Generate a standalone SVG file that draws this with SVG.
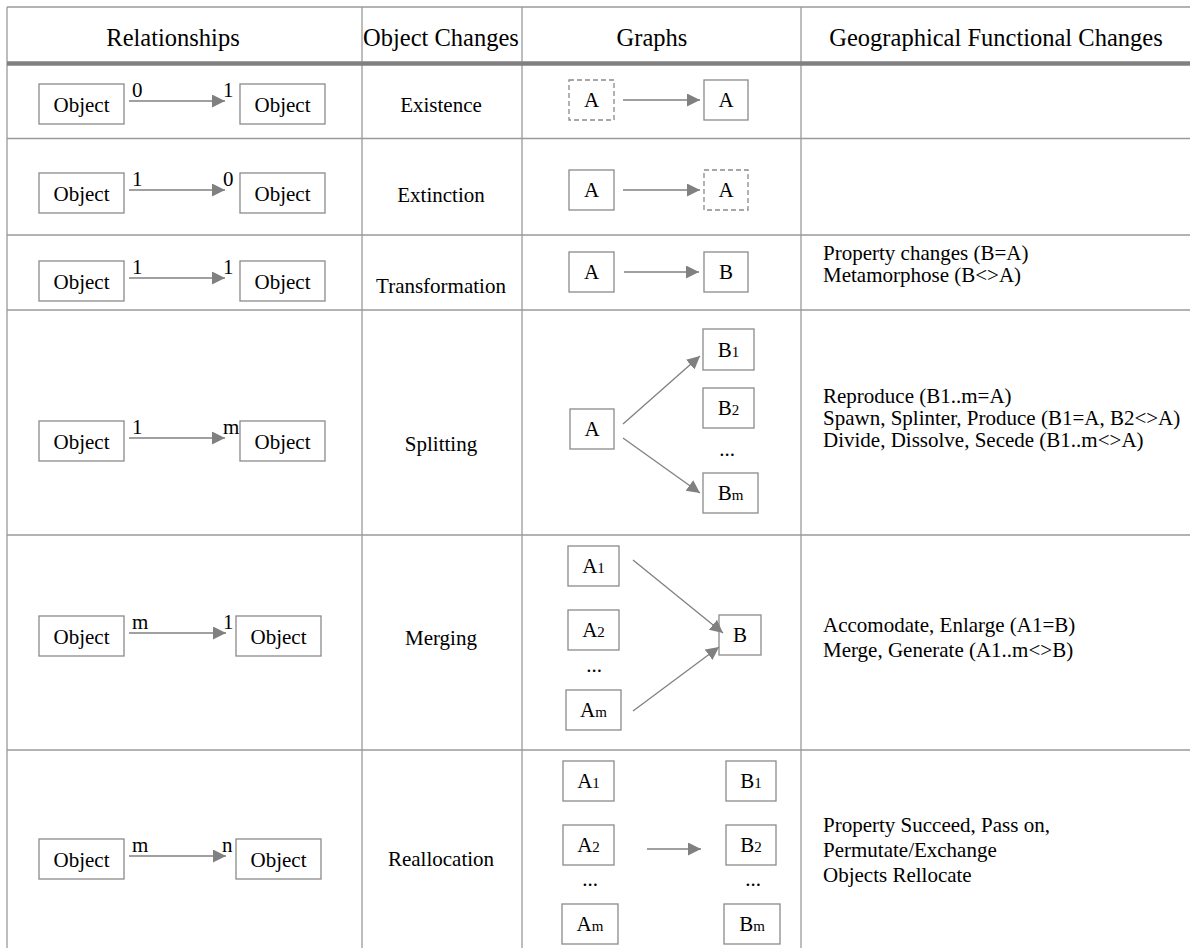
<svg xmlns="http://www.w3.org/2000/svg" width="1190" height="948" viewBox="0 0 1190 948">
<defs>
<style>
text{font-family:"Liberation Serif","Times New Roman",serif;fill:#000;}
.h{font-size:24.5px;text-anchor:middle;}
.t{font-size:21px;}
.c{font-size:21px;text-anchor:middle;}
.s{font-size:15px;}
.grid{stroke:#9a9a9a;stroke-width:1.3;fill:none;}
.thick{stroke:#808080;stroke-width:4.5;fill:none;}
.box{fill:#fff;stroke:#8a8a8a;stroke-width:1.3;}
.dash{fill:#fff;stroke:#8a8a8a;stroke-width:1.3;stroke-dasharray:5 3;}
.ar{stroke:#808080;stroke-width:1.3;fill:none;marker-end:url(#ah);}
</style>
<marker id="ah" markerUnits="userSpaceOnUse" markerWidth="14" markerHeight="14" refX="13" refY="6.5" orient="auto">
<path d="M0,0 L13,6.5 L0,13 z" fill="#808080"/>
</marker>
</defs>
<rect width="1190" height="948" fill="#fff"/>
<g id="table">
<path class="grid" d="M7,7 H1190 M7,138.5 H1190 M7,235 H1190 M7,310 H1190 M7,535 H1190 M7,750 H1190 M7,7 V948 M362,7 V948 M522,7 V948 M801,7 V948"/>
<path class="thick" d="M7,63.5 H1190"/>
<text class="h" x="173" y="46">Relationships</text>
<text class="h" x="441" y="46">Object Changes</text>
<text class="h" x="652" y="46">Graphs</text>
<text class="h" x="996" y="46">Geographical Functional Changes</text>
<text class="c" x="441" y="112">Existence</text>
<text class="c" x="441" y="202">Extinction</text>
<text class="c" x="441" y="293">Transformation</text>
<text class="c" x="441" y="451">Splitting</text>
<text class="c" x="441" y="645">Merging</text>
<text class="c" x="441" y="866">Reallocation</text>
<text class="t" x="823" y="260">Property changes (B=A)</text>
<text class="t" x="823" y="282">Metamorphose (B&lt;&gt;A)</text>
<text class="t" x="823" y="403">Reproduce (B1..m=A)</text>
<text class="t" x="823" y="425">Spawn, Splinter, Produce (B1=A, B2&lt;&gt;A)</text>
<text class="t" x="823" y="447">Divide, Dissolve, Secede (B1..m&lt;&gt;A)</text>
<text class="t" x="823" y="632">Accomodate, Enlarge (A1=B)</text>
<text class="t" x="823" y="657">Merge, Generate (A1..m&lt;&gt;B)</text>
<text class="t" x="823" y="832">Property Succeed, Pass on,</text>
<text class="t" x="823" y="857">Permutate/Exchange</text>
<text class="t" x="823" y="882">Objects Rellocate</text>
</g>
<g id="rel-existence">
<rect class="box" x="39" y="84" width="85" height="40"/><text class="c" x="81.5" y="112">Object</text>
<rect class="box" x="240" y="84" width="85" height="40"/><text class="c" x="282.5" y="112">Object</text>
<text class="t" x="132" y="97">0</text><text class="t" x="223" y="97">1</text>
</g>
<g id="rel-extinction">
<rect class="box" x="39" y="173" width="85" height="40"/><text class="c" x="81.5" y="201">Object</text>
<rect class="box" x="240" y="173" width="85" height="40"/><text class="c" x="282.5" y="201">Object</text>
<text class="t" x="132" y="186">1</text><text class="t" x="223" y="186">0</text>
</g>
<g id="rel-transformation">
<rect class="box" x="39" y="261" width="85" height="40"/><text class="c" x="81.5" y="289">Object</text>
<rect class="box" x="240" y="261" width="85" height="40"/><text class="c" x="282.5" y="289">Object</text>
<text class="t" x="132" y="274">1</text><text class="t" x="223" y="274">1</text>
</g>
<g id="rel-splitting">
<rect class="box" x="39" y="421" width="85" height="40"/><text class="c" x="81.5" y="449">Object</text>
<rect class="box" x="240" y="421" width="85" height="40"/><text class="c" x="282.5" y="449">Object</text>
<text class="t" x="132" y="434">1</text><text class="t" x="223" y="434">m</text>
</g>
<g id="rel-merging">
<rect class="box" x="39" y="616" width="85" height="40"/><text class="c" x="81.5" y="644">Object</text>
<rect class="box" x="236" y="616" width="85" height="40"/><text class="c" x="278.5" y="644">Object</text>
<text class="t" x="132" y="629">m</text><text class="t" x="223" y="629">1</text>
</g>
<g id="rel-reallocation">
<rect class="box" x="39" y="839" width="85" height="40"/><text class="c" x="81.5" y="867">Object</text>
<rect class="box" x="236" y="839" width="85" height="40"/><text class="c" x="278.5" y="867">Object</text>
<text class="t" x="132" y="852">m</text><text class="t" x="222" y="852">n</text>
</g>
<g id="g-existence">
<rect class="dash" x="569" y="80" width="45" height="40"/><text class="c" x="591.5" y="107">A</text>
<rect class="box" x="704" y="80" width="44" height="40"/><text class="c" x="726" y="107">A</text>
</g>
<g id="g-extinction">
<rect class="box" x="569" y="170" width="45" height="40"/><text class="c" x="591.5" y="197">A</text>
<rect class="dash" x="704" y="170" width="44" height="40"/><text class="c" x="726" y="197">A</text>
</g>
<g id="g-transformation">
<rect class="box" x="569" y="252" width="45" height="40"/><text class="c" x="591.5" y="279">A</text>
<rect class="box" x="704" y="252" width="44" height="40"/><text class="c" x="726" y="279">B</text>
</g>
<g id="g-splitting">
<rect class="box" x="570" y="409" width="44" height="40"/><text class="c" x="592" y="436">A</text>
<rect class="box" x="703" y="329" width="51" height="41"/><text class="c" x="728.5" y="357">B<tspan class="s">1</tspan></text>
<rect class="box" x="703" y="388" width="51" height="40"/><text class="c" x="728.5" y="415">B<tspan class="s">2</tspan></text>
<text class="c" x="727" y="456">...</text>
<rect class="box" x="703" y="473" width="55" height="40"/><text class="c" x="730.5" y="500">B<tspan class="s">m</tspan></text>
</g>
<g id="g-merging">
<rect class="box" x="568" y="546" width="51" height="40"/><text class="c" x="593.5" y="573">A<tspan class="s">1</tspan></text>
<rect class="box" x="568" y="610" width="51" height="40"/><text class="c" x="593.5" y="637">A<tspan class="s">2</tspan></text>
<text class="c" x="594" y="672">...</text>
<rect class="box" x="566" y="690" width="55" height="40"/><text class="c" x="593.5" y="717">A<tspan class="s">m</tspan></text>
<rect class="box" x="719" y="615" width="42" height="40"/><text class="c" x="740" y="642">B</text>
</g>
<g id="g-reallocation">
<rect class="box" x="563" y="761" width="51" height="40"/><text class="c" x="588.5" y="788">A<tspan class="s">1</tspan></text>
<rect class="box" x="563" y="825" width="51" height="40"/><text class="c" x="588.5" y="852">A<tspan class="s">2</tspan></text>
<text class="c" x="590" y="886">...</text>
<rect class="box" x="562" y="904" width="56" height="40"/><text class="c" x="590" y="931">A<tspan class="s">m</tspan></text>
<rect class="box" x="726" y="761" width="50" height="40"/><text class="c" x="751" y="788">B<tspan class="s">1</tspan></text>
<rect class="box" x="726" y="825" width="50" height="40"/><text class="c" x="751" y="852">B<tspan class="s">2</tspan></text>
<text class="c" x="753" y="886">...</text>
<rect class="box" x="724" y="904" width="56" height="40"/><text class="c" x="752" y="931">B<tspan class="s">m</tspan></text>
</g>
<g id="connectors">
<line class="ar" x1="129" y1="101" x2="225" y2="101"/>
<line class="ar" x1="129" y1="190" x2="225" y2="190"/>
<line class="ar" x1="129" y1="278" x2="225" y2="278"/>
<line class="ar" x1="129" y1="438" x2="225" y2="438"/>
<line class="ar" x1="129" y1="633" x2="226" y2="633"/>
<line class="ar" x1="129" y1="856" x2="226" y2="856"/>
<line class="ar" x1="623" y1="100" x2="700" y2="100"/>
<line class="ar" x1="623" y1="190" x2="700" y2="190"/>
<line class="ar" x1="624" y1="272" x2="699" y2="272"/>
<line class="ar" x1="623" y1="424" x2="700" y2="356"/>
<line class="ar" x1="623" y1="438" x2="700" y2="493"/>
<line class="ar" x1="633" y1="560" x2="723" y2="633"/>
<line class="ar" x1="633" y1="711" x2="719" y2="647"/>
<line class="ar" x1="647" y1="849" x2="701" y2="849"/>
</g>
</svg>
